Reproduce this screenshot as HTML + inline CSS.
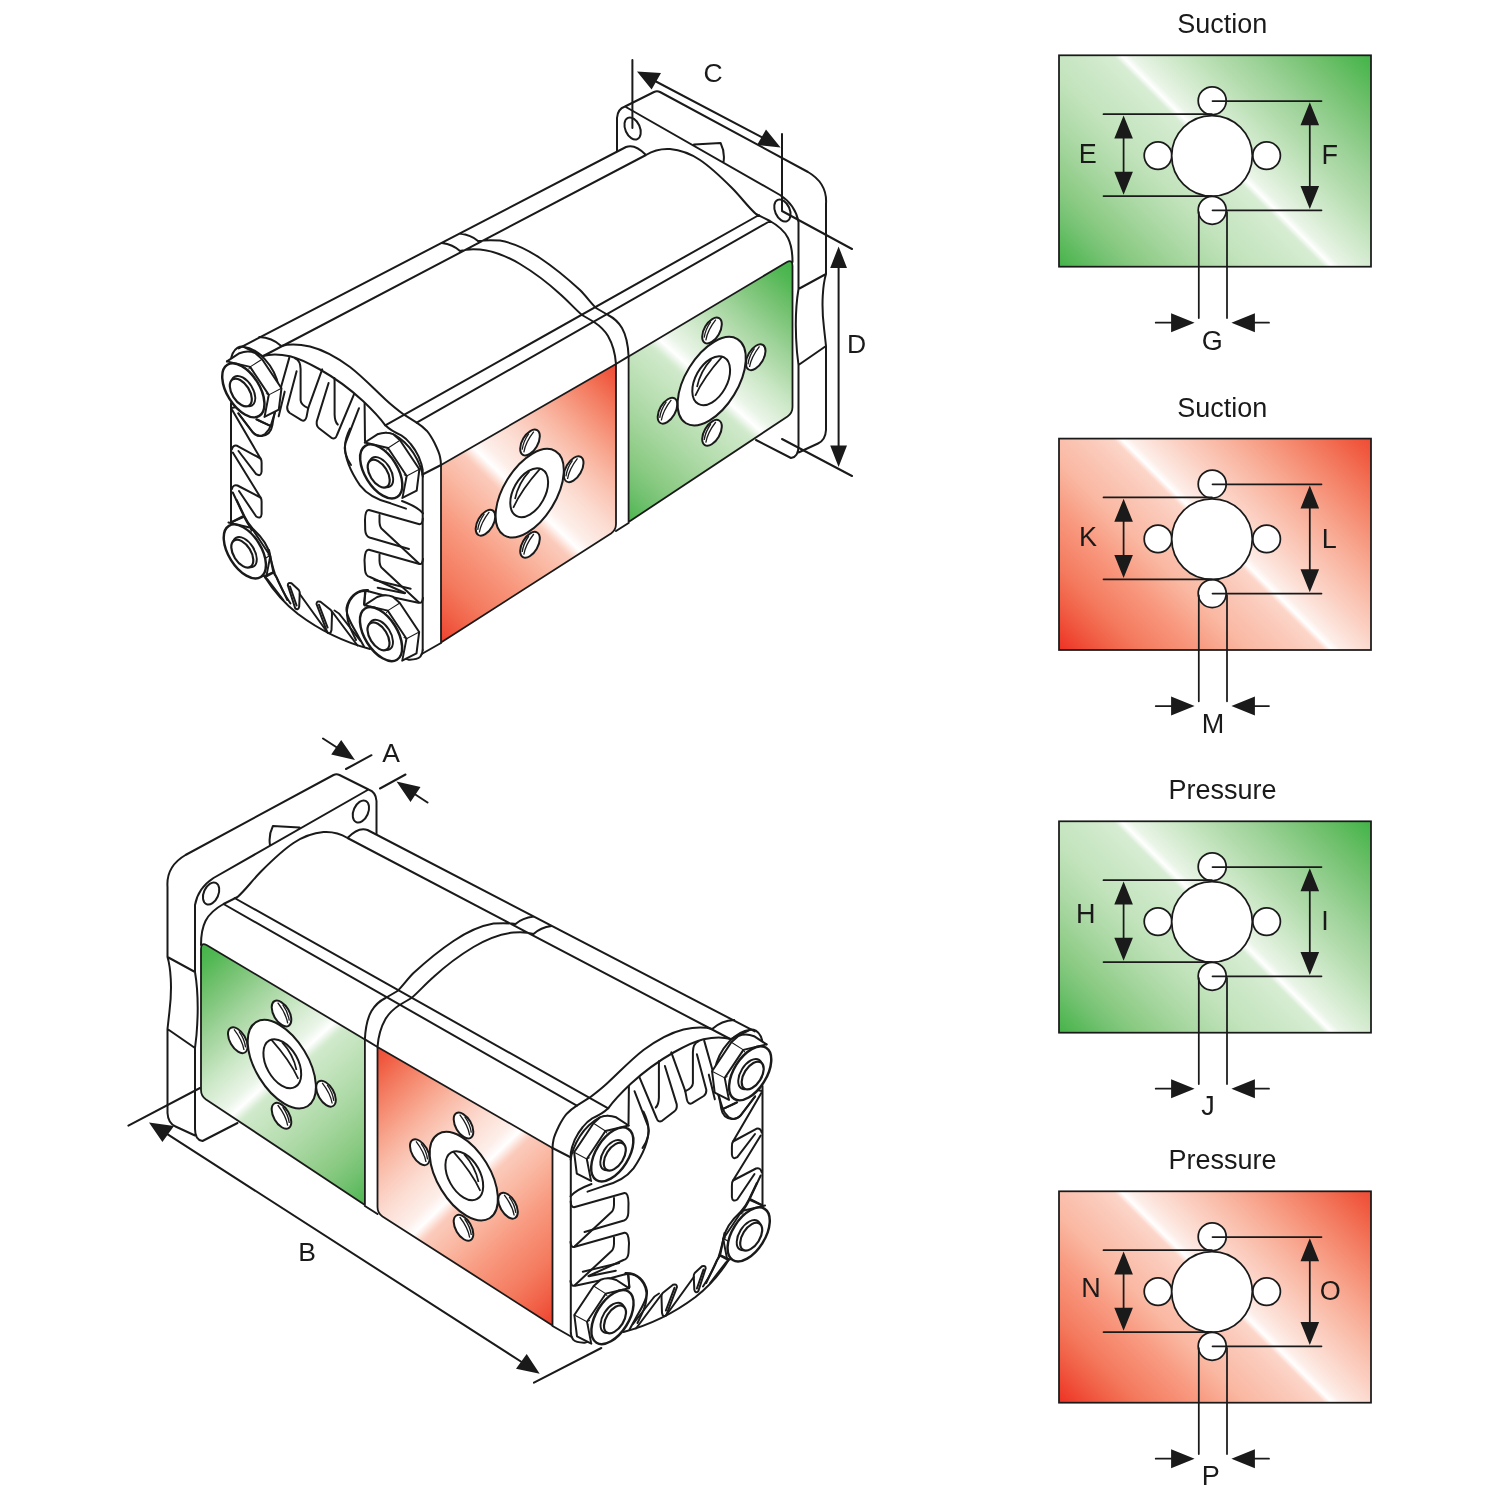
<!DOCTYPE html>
<html><head><meta charset="utf-8"><title>Pump dimensions</title>
<style>
html,body{margin:0;padding:0;background:#fff;}
body{width:1500px;height:1500px;overflow:hidden;}
svg{display:block;will-change:transform;}
text{font-family:"Liberation Sans",sans-serif;fill:#1a1a1a;}
.l{fill:none;stroke:#1a1a1a;stroke-width:2;stroke-linecap:round;stroke-linejoin:round;}
.t{fill:none;stroke:#1a1a1a;stroke-width:1.3;stroke-linecap:round;stroke-linejoin:round;}
.k{fill:none;stroke:#1a1a1a;stroke-width:2.5;stroke-linecap:round;stroke-linejoin:round;}
.w{fill:#fff;stroke:#1a1a1a;stroke-width:2;stroke-linecap:round;stroke-linejoin:round;}
.a{fill:#1a1a1a;stroke:none;}
#pdim .l,#pdim .w{stroke-width:1.75;}
</style></head><body>
<svg width="1500" height="1500" viewBox="0 0 1500 1500">
<defs>
<linearGradient id="gg" gradientUnits="userSpaceOnUse" x1="1059" y1="267" x2="1321" y2="5">
 <stop offset="0" stop-color="#44b348"/>
 <stop offset="0.05" stop-color="#5cba5c"/>
 <stop offset="0.1" stop-color="#74c272"/>
 <stop offset="0.16" stop-color="#8ccb84"/>
 <stop offset="0.27" stop-color="#acd9a5"/>
 <stop offset="0.36" stop-color="#c2e3bc"/>
 <stop offset="0.46" stop-color="#cfe9ca"/>
 <stop offset="0.507" stop-color="#d8edd4"/>
 <stop offset="0.522" stop-color="#ffffff"/>
 <stop offset="0.54" stop-color="#eaf5e8"/>
 <stop offset="0.58" stop-color="#dbeed7"/>
 <stop offset="0.635" stop-color="#c8e6c3"/>
 <stop offset="0.7" stop-color="#b2dbac"/>
 <stop offset="0.76" stop-color="#9fd39a"/>
 <stop offset="0.83" stop-color="#86c982"/>
 <stop offset="0.9" stop-color="#6cbf69"/>
 <stop offset="0.96" stop-color="#52b854"/>
 <stop offset="1" stop-color="#42b347"/>
</linearGradient>
<linearGradient id="rg" gradientUnits="userSpaceOnUse" x1="1059" y1="267" x2="1321" y2="5">
 <stop offset="0" stop-color="#ee3124"/>
 <stop offset="0.05" stop-color="#ef4a35"/>
 <stop offset="0.1" stop-color="#f16248"/>
 <stop offset="0.16" stop-color="#f47a5e"/>
 <stop offset="0.27" stop-color="#f8997f"/>
 <stop offset="0.36" stop-color="#fab8a2"/>
 <stop offset="0.46" stop-color="#fbcabb"/>
 <stop offset="0.507" stop-color="#fcd6c9"/>
 <stop offset="0.522" stop-color="#ffffff"/>
 <stop offset="0.54" stop-color="#fdeee9"/>
 <stop offset="0.58" stop-color="#fcdfd5"/>
 <stop offset="0.635" stop-color="#fbcdbf"/>
 <stop offset="0.7" stop-color="#f9b9a5"/>
 <stop offset="0.76" stop-color="#f8a58e"/>
 <stop offset="0.83" stop-color="#f58c72"/>
 <stop offset="0.9" stop-color="#f27257"/>
 <stop offset="0.96" stop-color="#f05a40"/>
 <stop offset="1" stop-color="#ef4b35"/>
</linearGradient>
<g id="pdim" style="stroke-width:1.8px">
 <circle class="w" stroke-width="1.8" cx="1212.2" cy="100.8" r="14"/>
 <circle class="w" stroke-width="1.8" cx="1212.2" cy="210.3" r="14"/>
 <circle class="w" stroke-width="1.8" cx="1158" cy="155.6" r="13.8"/>
 <circle class="w" stroke-width="1.8" cx="1266.6" cy="155.6" r="13.8"/>
 <circle class="w" stroke-width="1.8" cx="1212" cy="155.8" r="40.3"/>
 <path class="l" stroke-width="1.8" d="M1103.5,114.2H1212 M1103.5,196H1212 M1212.5,101H1321.5 M1212.5,210.3H1321.5 M1123.6,120V190 M1309.8,108V204 M1198.8,212V318 M1227,212V318 M1155.7,322.7H1180 M1245,322.7H1269"/>
 <path class="a" d="M1123.6,115.5l9.3,23h-18.6z M1123.6,194.7l9.3,-23h-18.6z M1309.8,102.3l9.3,23h-18.6z M1309.8,209l9.3,-23h-18.6z M1194.6,322.7l-23.5,-9.5v19z M1231.4,322.7l23.5,-9.5v19z"/>
</g>
<linearGradient id="rgf" gradientUnits="userSpaceOnUse" x1="432.6" y1="650.7" x2="664.7" y2="411.2">
 <stop offset="0" stop-color="#ee3124"/>
 <stop offset="0.0575" stop-color="#ef4a35"/>
 <stop offset="0.115" stop-color="#f16248"/>
 <stop offset="0.184" stop-color="#f47a5e"/>
 <stop offset="0.3105" stop-color="#f8997f"/>
 <stop offset="0.414" stop-color="#fab8a2"/>
 <stop offset="0.485" stop-color="#fbcabb"/>
 <stop offset="0.495" stop-color="#fcd6c9"/>
 <stop offset="0.522" stop-color="#ffffff"/>
 <stop offset="0.555" stop-color="#fdeee9"/>
 <stop offset="0.62" stop-color="#fcdfd5"/>
 <stop offset="0.68" stop-color="#fbcdbf"/>
 <stop offset="0.74" stop-color="#f9b9a5"/>
 <stop offset="0.79" stop-color="#f8a58e"/>
 <stop offset="0.85" stop-color="#f58c72"/>
 <stop offset="0.91" stop-color="#f27257"/>
 <stop offset="0.96" stop-color="#f05a40"/>
 <stop offset="1.0" stop-color="#ef4b35"/>
</linearGradient>
<linearGradient id="ggf" gradientUnits="userSpaceOnUse" x1="624.4" y1="526.7" x2="832.9" y2="296.7">
 <stop offset="0" stop-color="#44b348"/>
 <stop offset="0.0575" stop-color="#5cba5c"/>
 <stop offset="0.115" stop-color="#74c272"/>
 <stop offset="0.184" stop-color="#8ccb84"/>
 <stop offset="0.3105" stop-color="#acd9a5"/>
 <stop offset="0.414" stop-color="#c2e3bc"/>
 <stop offset="0.485" stop-color="#cfe9ca"/>
 <stop offset="0.495" stop-color="#d8edd4"/>
 <stop offset="0.522" stop-color="#ffffff"/>
 <stop offset="0.555" stop-color="#eaf5e8"/>
 <stop offset="0.60" stop-color="#dbeed7"/>
 <stop offset="0.655" stop-color="#c8e6c3"/>
 <stop offset="0.71" stop-color="#b2dbac"/>
 <stop offset="0.76" stop-color="#9fd39a"/>
 <stop offset="0.82" stop-color="#86c982"/>
 <stop offset="0.885" stop-color="#6cbf69"/>
 <stop offset="0.94" stop-color="#52b854"/>
 <stop offset="1.0" stop-color="#42b347"/>
</linearGradient>
<clipPath id="borec"><ellipse cx="642" cy="727" rx="266" ry="158" transform="rotate(-61 642 727)"/></clipPath>
<g id="hole">
 <ellipse cx="0" cy="0" rx="142" ry="78" transform="rotate(-60)" fill="#fff" stroke="#1a1a1a" stroke-width="20"/>
 <path d="M-12,-88 C-50,-35 -72,25 -78,72 M38,-108 C-15,-40 -52,40 -62,98" fill="none" stroke="#1a1a1a" stroke-width="13"/>
</g>
<g id="port" transform="translate(465,420) scale(0.1)">
 <use href="#hole" x="650" y="225"/>
 <use href="#hole" x="1087" y="492"/>
 <use href="#hole" x="205" y="1027"/>
 <use href="#hole" x="650" y="1248"/>
 <ellipse cx="647" cy="732" rx="493" ry="262" transform="rotate(-58.5 647 732)" fill="#fff" stroke="#1a1a1a" stroke-width="20"/>
 <ellipse cx="642" cy="727" rx="266" ry="158" transform="rotate(-61 642 727)" fill="#fff" stroke="#1a1a1a" stroke-width="20"/>
 <path d="M645,512 C582,580 522,688 500,790 M752,486 C668,580 545,738 482,878" fill="none" stroke="#1a1a1a" stroke-width="17" clip-path="url(#borec)"/>
</g>
<g id="nutface" transform="scale(0.066667) translate(-580,-800)" fill="none" stroke="#1a1a1a" stroke-linecap="round" stroke-linejoin="round">
 <path d="M372,338 L720,420 L1000,840 L940,1150" stroke-width="29"/>
 <path d="M720,420 L700,452 M720,420 L748,470 M1000,840 L962,822 M1000,840 L985,890" stroke-width="15"/>
 <ellipse cx="618" cy="772" rx="452" ry="244" transform="rotate(58 618 772)" fill="#fff" stroke-width="37"/>
 <ellipse cx="617" cy="783" rx="252" ry="143" transform="rotate(58 617 783)" fill="#fff" stroke-width="29"/>
 <ellipse cx="580" cy="805" rx="232" ry="130" transform="rotate(58 580 805)" fill="#fff" stroke-width="33"/>
</g>
<g id="nutback" transform="scale(0.066667) translate(-580,-800)" fill="none" stroke="#1a1a1a" stroke-linecap="round" stroke-linejoin="round">
 <path d="M372,338 L560,215 C630,188 730,186 795,212 L900,305 L1190,740 L1150,1060 L935,1170 L600,1100 L300,600 Z" fill="#fff" stroke="none"/>
 <path d="M372,338 L560,215 C630,188 730,186 795,212 L900,305 L1190,740 L1150,1060 L935,1170" stroke-width="30"/>
 <path d="M720,420 L900,305 M1000,840 L1190,740" stroke-width="16"/>
</g>
<g id="nut"><use href="#nutback"/><use href="#nutface"/></g>

</defs>
<rect width="1500" height="1500" fill="#fff"/>
<g id="pumpT">
<!-- coloured faces -->
<path d="M441,465 L616,364 L616,524 Q616,530 611,533.5 L441,642.5 Z" fill="url(#rgf)" stroke="#1a1a1a" stroke-width="1.8" stroke-linejoin="round"/>
<path d="M628.6,356.4 L787,262 Q792.5,259 792.5,266 L792.5,407 Q792.5,413 787.5,416.5 L628.6,522 Z" fill="url(#ggf)" stroke="#1a1a1a" stroke-width="1.8" stroke-linejoin="round"/>
<use href="#port"/>
<use href="#port" transform="translate(182,-112)"/>
<!-- body long lines -->
<path class="l" d="M238.7,348.4 L626,147 Q635,143.5 646,155
 M263.3,356 L646,155
 M646,155 C654,150 662,148.5 670,149 C681,150 691,154 700,160 C712,168 722,178 732,188 C741,197 748,207 756,214 L770,221 C779,226 785,232 788,238 C791,244 792.5,251 792.5,262
 M442,243 Q453,244.5 460,251 M460,233.6 Q471,235 478,241
 M460,251 C467,249 474,249 480,249.6 C494,251 508,257 520,264 C535,273 548,283 560,294 C568,301 575,309 582,315 L594,322 C600,326 605,331 608,336 C612,343 615,350 616,364
 M478,241 C485,240 493,240 500,240.6 C514,243 528,250 540,258 C555,268 568,279 580,290 C586,296 591,303 596,308 L608,315 C614,318 619,323 622,328 C626,335 628,343 628.6,356.4
 M385.3,425.3 L759,215
 M416.7,422.7 L770,221
 M422.5,474.5 L441,465
 M616,364 L628.6,356.4 M616,531 L628.6,523"/>
<!-- flange -->
<path class="l" d="M617,151 L617,118 Q617.5,109 625,106.5 L780,195 Q795.5,205 798.5,222 L798.5,289 C796,304 795,328 797,352 L798.5,365 L798.5,446 Q798.5,457 791,458 L756,440
 M625,106.5 L654,92 Q657,90.5 660,92 L808,172 C820,179 827,190 826,204 L826,274 C823,284 821,304 824,328 L826,346 L826,430 Q825.5,440 818,443.5 L798.5,452.5
 M798.5,289 L826,274 M798.5,365 L826,346
 M694,144.4 L720.6,143 Q725,152 723.6,161.6"/>
<ellipse class="l" cx="632.6" cy="128.5" rx="7.3" ry="11.6" transform="rotate(-24 632.6 128.5)"/>
<ellipse class="l" cx="782.4" cy="210.5" rx="7.3" ry="11.6" transform="rotate(-24 782.4 210.5)"/>

<!-- end cap: arcs in source coords -->
<path class="l" d="M262.7,356 C270,354 280,354 290,356.3 C300,358.5 310,364 320,369.5 C335,378 350,389 363,401 C372,409.5 380,418 385.3,425.3
 M281.3,346 C289,344 298,344 310,346.5 C322,349.5 335,356 350,367 C363,377 375,390 386,400 C393,406.5 399,411 404,414.7
 M385.3,425.3 C390,430 396,433 401.3,435.3 C405,437.5 408,440.5 410.7,444 C414,448 416.5,452 418.7,456.7 C420.5,461 422,465 422.7,470 L422.7,650
 M259.3,337 Q272,337.5 281.3,346
 M404,414.7 L416.7,422.7 C421,425.5 424,428 426.7,430.7 C430,434.5 432.5,439 434.7,443.3 C437,448 439,452 440,456.7 C440.7,460 441,462.5 441,465.3"/>
<!-- N1 surroundings (15x origin 215,340) -->
<g transform="translate(215,340) scale(0.066667)" fill="none" stroke="#1a1a1a" stroke-width="30" stroke-linecap="round" stroke-linejoin="round">
 <path d="M235,335 C240,250 270,160 340,115 C370,100 400,97 420,100 C520,110 640,170 740,280 C850,400 930,560 955,700 C970,790 960,880 930,980 C900,1060 880,1150 860,1280 C845,1370 790,1430 700,1440 C640,1445 590,1410 560,1380 L350,1100"/>
 <path d="M420,100 L710,240 M620,1190 C700,1230 780,1270 840,1290 M250,1020 L300,1010"/>
</g>
<!-- top fins (12.5x origin 275,345) -->
<g transform="translate(275,345) scale(0.08)" fill="none" stroke="#1a1a1a" stroke-width="25" stroke-linecap="round" stroke-linejoin="round">
 <path d="M270,328 L152,775 Q150,825 185,850 L330,940 Q380,962 395,895 L415,790 L590,305"/>
 <path d="M179,158 L71,540"/>
 <path d="M250,168 Q318,195 320,300 L320,690 Q322,745 415,790"/>
 <path d="M121,583 L46,892"/>
 <path d="M670,475 L522,955 Q515,1015 550,1040 L705,1160 Q755,1185 775,1125 L990,610"/>
 <path d="M742,412 Q746,440 745,500 L745,870 Q748,960 785,995"/>
 <path d="M1050,790 L880,1230 Q862,1290 880,1350 Q900,1430 950,1500"/>
 <path d="M1120,730 L1125,1200"/>
</g>
<!-- N2 surroundings (15x origin 340,420) -->
<g transform="translate(340,420) scale(0.066667)" fill="none" stroke="#1a1a1a" stroke-width="30" stroke-linecap="round" stroke-linejoin="round">
 <path d="M150,130 C100,230 75,320 75,400 C75,560 150,760 300,980 C400,1110 560,1200 760,1250 L990,1330"/>
 <path d="M930,1215 C1050,1260 1180,1320 1245,1400"/>
 <path d="M690,190 C860,195 1090,400 1200,690 C1225,750 1240,800 1243,850"/>
</g>
<!-- right fins (10x origin 340,490) -->
<g transform="translate(340,490) scale(0.1)" fill="none" stroke="#1a1a1a" stroke-width="20" stroke-linecap="round" stroke-linejoin="round">
 <path d="M828,285 Q826,340 795,342 L290,200 Q252,195 250,300 L252,400 Q255,460 295,475 L690,590"/>
 <path d="M395,250 L395,320 Q398,375 425,395 L790,735 Q822,755 830,690"/>
 <path d="M795,740 L290,597 Q250,590 245,700 L250,800 Q255,860 300,870 L650,1030"/>
 <path d="M395,645 L395,710 Q398,765 425,785 L790,1125 Q822,1140 830,1080"/>
 <path d="M283,1013 C160,995 60,1100 70,1250 C75,1330 110,1400 160,1500"/>
 <path d="M255,1020 L240,1140"/>
</g>
<!-- left fins (10x origin 215,400) -->
<g transform="translate(215,400) scale(0.1)" fill="none" stroke="#1a1a1a" stroke-width="20" stroke-linecap="round" stroke-linejoin="round">
 <path d="M160,30 L160,1225 L275,1165"/>
 <path d="M235,135 L385,330 Q440,385 500,340 Q545,300 560,250 L605,105"/>
 <path d="M420,195 L560,262"/>
 <path d="M172,100 L455,585 L222,458 Q180,445 168,495"/>
 <path d="M455,585 Q468,600 466,640 L466,715 Q462,770 412,742 L235,510"/>
 <path d="M178,525 L455,975 L225,855 Q182,842 168,892"/>
 <path d="M455,975 Q468,990 466,1030 L466,1140 Q462,1195 412,1165 L240,910"/>
 <path d="M178,925 L300,1185 Q340,1260 375,1300"/>
</g>
<!-- bottom fins (10x origin 250,550) -->
<g transform="translate(250,550) scale(0.1)" fill="none" stroke="#1a1a1a" stroke-width="20" stroke-linecap="round" stroke-linejoin="round">
 <path d="M150,272 C230,400 340,530 480,640 C640,760 860,900 1200,990"/>
 <path d="M150,272 L235,225"/>
 <path d="M190,0 C205,80 225,170 250,240 C290,340 340,440 405,535"/>
 <path d="M378,352 Q380,322 415,333 L488,400 Q500,415 497,445 L492,565 Q482,610 452,583 Z"/>
 <path d="M400,365 L466,555 M497,440 L775,825"/>
 <path d="M665,540 Q668,505 705,518 L808,600 Q822,612 820,645 L815,800 Q805,850 772,822 Z"/>
 <path d="M690,548 L776,775 M820,615 L1075,955"/>
 <path d="M845,605 Q890,630 910,660 L1105,910"/>
 <path d="M1180,400 C1060,395 985,480 965,580 C958,640 1000,720 1060,820 L1140,965"/>
</g>
<!-- N4 surroundings (15x origin 345,580) -->
<g transform="translate(345,580) scale(0.066667)" fill="none" stroke="#1a1a1a" stroke-width="30" stroke-linecap="round" stroke-linejoin="round">
 <path d="M1100,340 L560,225 L350,170"/>
 <path d="M490,115 L895,200 M440,0 L985,130 M300,180 L290,370"/>
 <path d="M1165,1050 Q1165,1100 1130,1150 Q1080,1200 950,1195 L900,1180"/>
 <path d="M1150,1110 L1440,945"/>
</g>
<use href="#nut" x="240.8" y="392.2"/>
<use href="#nut" x="378.7" y="473.3"/>
<g transform="translate(210,500) scale(0.066667)" fill="none" stroke="#1a1a1a" stroke-width="30" stroke-linecap="round" stroke-linejoin="round">
 <path d="M310,340 L500,255"/>
 <path d="M400,0 L520,250 Q560,340 650,440 C780,560 870,680 900,830 L945,1060 Q960,1110 1000,1160 L1160,1500"/>
 <path d="M820,1150 L870,1200 L1100,1500"/>
 <path d="M620,465 L650,440 M835,870 L900,835 M790,1150 L940,1080" stroke-width="20"/>
</g>
<use href="#nutface" x="242.3" y="553.3"/>
<use href="#nut" x="378.5" y="636"/>

</g>
<use href="#pumpT" transform="translate(993.5,683) scale(-1,1)"/>

<g id="dims" font-size="26.5" text-anchor="middle">
<path class="l" d="M632.4,60 V128 M782,134 V210 M782,211 L852,249 M782,439 L852,476 M655,81 L765,139 M838.6,262 V452"/>
<path class="a" d="M637,71.4 L661,73 L651.6,89.6 Z M780.6,147.4 L766,129.6 L757,145 Z M838.6,246.4 l8.4,21.6 h-16.8 Z M838.6,467 l8.4,-21.6 h-16.8 Z"/>
<text x="713" y="81.6">C</text>
<text x="856.6" y="353">D</text>
<path class="l" d="M323,738.5 L340,749.5 M346,769 L371.5,755.2 M380,788.5 L405.5,774.5 M427.5,802.5 L410,791 M128.4,1125.6 L200,1088 M534,1382.7 L601.3,1348 M165,1132.7 L524,1363.5"/>
<path class="a" d="M355,760 L331.2,754.5 L341.2,740 Z M396.5,781.5 L420.5,787 L410.5,802 Z M149,1122.4 L174,1126 L162.4,1142 Z M539.7,1373.7 L516,1368.7 L526.7,1354 Z"/>
<text x="391" y="761.8">A</text>
<text x="307" y="1260.6">B</text>
</g>

<g font-size="27" text-anchor="middle">
<rect x="1059" y="55.3" width="312" height="211.4" fill="url(#gg)" stroke="#1a1a1a" stroke-width="1.75"/>
<use href="#pdim"/>
<text x="1222.3" y="33.3">Suction</text>
<text x="1087.8" y="162.8">E</text><text x="1329.7" y="164">F</text><text x="1212.2" y="350">G</text>
<g transform="translate(0,383.3)">
<rect x="1059" y="55.3" width="312" height="211.4" fill="url(#rg)" stroke="#1a1a1a" stroke-width="1.75"/>
<use href="#pdim"/>
<text x="1222.3" y="33.3">Suction</text>
<text x="1088" y="162.8">K</text><text x="1329.3" y="164.3">L</text><text x="1213" y="350">M</text>
</g>
<g transform="translate(0,766)">
<rect x="1059" y="55.3" width="312" height="211.4" fill="url(#gg)" stroke="#1a1a1a" stroke-width="1.75"/>
<use href="#pdim"/>
<text x="1222.5" y="32.5">Pressure</text>
<text x="1085.8" y="157.3">H</text><text x="1325" y="164">I</text><text x="1208" y="349">J</text>
</g>
<g transform="translate(0,1136)">
<rect x="1059" y="55.3" width="312" height="211.4" fill="url(#rg)" stroke="#1a1a1a" stroke-width="1.75"/>
<use href="#pdim"/>
<text x="1222.5" y="32.5">Pressure</text>
<text x="1091" y="160.7">N</text><text x="1330.3" y="164">O</text><text x="1210.8" y="349">P</text>
</g>
</g>

</svg>
</body></html>
